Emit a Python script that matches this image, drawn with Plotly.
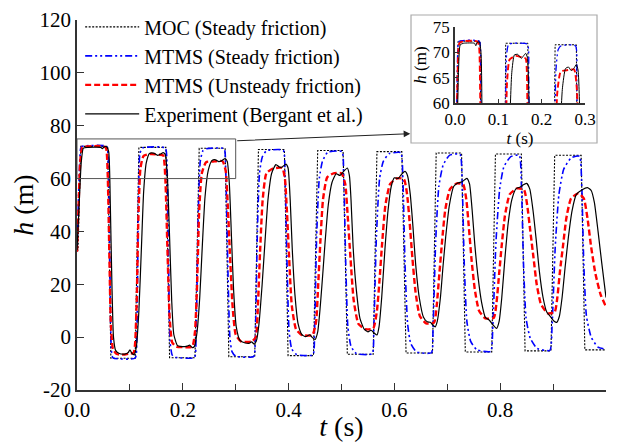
import plotly.graph_objects as go

# --- values ---
# MOC (steady friction), black dotted
moc_t = [0.000, 0.002, 0.007, 0.058, 0.064, 0.110, 0.117, 0.168, 0.175, 0.223,
         0.231, 0.280, 0.287, 0.336, 0.343, 0.392, 0.399, 0.447, 0.455, 0.503,
         0.511, 0.560, 0.567, 0.614, 0.622, 0.672, 0.679, 0.727, 0.734, 0.784,
         0.791, 0.840, 0.847, 0.896, 0.903, 0.953, 0.960, 1.000]
moc_h = [32.5, 33.0, 72.2, 72.2, -8.0, -8.0, 71.8, 71.8, -7.8, -7.8,
         71.5, 71.5, -7.4, -7.4, 71.0, 71.0, -7.0, -7.0, 70.6, 70.6,
         -6.5, -6.5, 70.2, 70.2, -6.0, -6.0, 69.7, 69.7, -5.6, -5.6,
         69.3, 69.3, -5.2, -5.2, 68.8, 68.8, -4.8, -4.8]

# MTMS (steady friction), blue dash-dot
mtms_s_t = [0.000, 0.004, 0.007, 0.010, 0.056, 0.059, 0.062, 0.065, 0.068, 0.110,
            0.113, 0.116, 0.119, 0.124, 0.167, 0.170, 0.173, 0.176, 0.180, 0.186,
            0.222, 0.225, 0.229, 0.233, 0.238, 0.245, 0.278, 0.281, 0.285, 0.289,
            0.293, 0.300, 0.334, 0.337, 0.341, 0.345, 0.350, 0.358, 0.390, 0.393,
            0.397, 0.401, 0.406, 0.415, 0.446, 0.449, 0.453, 0.458, 0.464, 0.474,
            0.501, 0.504, 0.508, 0.512, 0.518, 0.528, 0.558, 0.561, 0.566, 0.572,
            0.579, 0.590, 0.612, 0.616, 0.620, 0.625, 0.631, 0.642, 0.670, 0.673,
            0.678, 0.684, 0.692, 0.704, 0.724, 0.728, 0.732, 0.737, 0.744, 0.756,
            0.782, 0.786, 0.792, 0.799, 0.807, 0.820, 0.836, 0.840, 0.844, 0.849,
            0.857, 0.870, 0.894, 0.898, 0.904, 0.911, 0.920, 0.934, 0.950, 0.954,
            0.958, 0.963, 0.972, 0.985, 1.000]
mtms_s_h = [32.5, 60.0, 71.5, 72.2, 72.2, 68.0, 30.0, -5.0, -7.8, -7.9,
            0.0, 50.0, 69.5, 71.6, 71.6, 66.0, 30.0, -2.0, -6.8, -7.6,
            -7.7, 0.0, 45.0, 66.5, 70.5, 71.3, 71.3, 64.0, 28.0, 0.0,
            -5.5, -7.2, -7.3, 0.0, 40.0, 62.0, 68.0, 70.5, 70.7, 63.0,
            28.0, 2.0, -4.5, -6.6, -6.7, 2.0, 38.0, 60.0, 66.5, 70.0,
            70.2, 62.0, 28.0, 4.0, -3.5, -6.2, -6.3, 3.0, 38.0, 60.0,
            66.5, 69.4, 69.8, 60.0, 28.0, 5.0, -2.5, -5.6, -5.9, 3.0,
            36.0, 57.0, 65.0, 68.8, 69.2, 59.0, 28.0, 6.0, -1.5, -4.8,
            -5.4, 4.0, 36.0, 56.0, 64.5, 68.3, 68.8, 58.0, 28.0, 7.0,
            -0.5, -4.3, -5.0, 4.0, 34.0, 54.0, 63.5, 67.8, 68.4, 58.0,
            28.0, 8.0, 0.0, -3.8, -4.6]

# MTMS (unsteady friction), red dashed
mtms_u_t = [0.000, 0.003, 0.006, 0.010, 0.020, 0.050, 0.055, 0.058, 0.061, 0.064,
            0.068, 0.075, 0.090, 0.100, 0.107, 0.110, 0.113, 0.116, 0.120, 0.126,
            0.140, 0.155, 0.163, 0.167, 0.171, 0.175, 0.180, 0.188, 0.205, 0.218,
            0.223, 0.227, 0.231, 0.236, 0.244, 0.260, 0.275, 0.281, 0.285, 0.289,
            0.294, 0.300, 0.310, 0.330, 0.338, 0.342, 0.346, 0.351, 0.358, 0.370,
            0.388, 0.393, 0.397, 0.401, 0.406, 0.414, 0.425, 0.445, 0.452, 0.456,
            0.460, 0.465, 0.473, 0.485, 0.500, 0.507, 0.512, 0.517, 0.523, 0.532,
            0.545, 0.560, 0.567, 0.572, 0.577, 0.583, 0.592, 0.605, 0.618, 0.624,
            0.629, 0.634, 0.640, 0.648, 0.660, 0.675, 0.680, 0.685, 0.690, 0.696,
            0.705, 0.718, 0.730, 0.736, 0.741, 0.746, 0.752, 0.760, 0.772, 0.788,
            0.793, 0.798, 0.803, 0.809, 0.818, 0.832, 0.845, 0.851, 0.857, 0.863,
            0.869, 0.877, 0.890, 0.903, 0.908, 0.913, 0.919, 0.925, 0.934, 0.948,
            0.958, 0.965, 0.972, 0.980, 0.990, 1.000]
mtms_u_h = [32.3, 50.0, 66.0, 71.8, 72.2, 72.2, 71.5, 62.0, 33.0, 5.0,
            -4.5, -6.4, -6.6, -6.2, -6.0, -2.0, 15.0, 45.0, 64.0, 68.6,
            69.3, 69.0, 68.8, 60.0, 33.0, 8.0, -2.0, -3.6, -3.8, -3.6,
            2.0, 20.0, 48.0, 62.0, 66.2, 66.5, 66.6, 63.0, 50.0, 32.0,
            12.0, 1.0, -1.6, -1.7, 0.0, 12.0, 32.0, 52.0, 62.0, 63.8,
            64.0, 60.0, 47.0, 30.0, 12.0, 3.0, 0.8, 0.8, 6.0, 20.0,
            36.0, 52.0, 60.5, 62.0, 62.0, 58.0, 45.0, 30.0, 14.0, 5.0,
            3.0, 3.3, 10.0, 22.0, 36.0, 50.0, 58.0, 60.1, 59.8, 54.0,
            43.0, 30.0, 17.0, 8.0, 5.2, 5.5, 12.0, 24.0, 36.0, 48.0,
            56.0, 58.2, 57.8, 52.0, 41.0, 29.0, 18.0, 10.0, 7.1, 7.3,
            13.0, 24.0, 35.0, 46.0, 54.0, 56.3, 55.8, 50.0, 40.0, 30.0,
            20.0, 12.5, 9.0, 9.5, 15.0, 25.0, 35.0, 45.0, 52.5, 54.4,
            52.5, 45.0, 34.0, 24.0, 16.0, 11.5]

# Experiment (Bergant et al.), black solid
exp_t = [0.000, 0.004, 0.008, 0.012, 0.020, 0.045, 0.048, 0.051, 0.056, 0.060,
         0.063, 0.066, 0.069, 0.073, 0.080, 0.090, 0.097, 0.100, 0.104, 0.108,
         0.112, 0.117, 0.122, 0.126, 0.131, 0.137, 0.145, 0.153, 0.158, 0.163,
         0.167, 0.171, 0.175, 0.179, 0.183, 0.190, 0.200, 0.208, 0.213, 0.218,
         0.222, 0.227, 0.232, 0.237, 0.242, 0.248, 0.255, 0.262, 0.268, 0.274,
         0.280, 0.284, 0.288, 0.292, 0.296, 0.301, 0.308, 0.318, 0.326, 0.330,
         0.335, 0.339, 0.344, 0.350, 0.355, 0.361, 0.368, 0.376, 0.383, 0.388,
         0.395, 0.399, 0.403, 0.407, 0.412, 0.418, 0.425, 0.432, 0.440, 0.445,
         0.450, 0.455, 0.460, 0.465, 0.469, 0.475, 0.482, 0.490, 0.497, 0.503,
         0.511, 0.515, 0.518, 0.522, 0.528, 0.535, 0.543, 0.550, 0.556, 0.562,
         0.567, 0.571, 0.576, 0.582, 0.588, 0.594, 0.600, 0.607, 0.613, 0.620,
         0.625, 0.630, 0.635, 0.640, 0.647, 0.655, 0.662, 0.668, 0.673, 0.677,
         0.681, 0.687, 0.692, 0.697, 0.704, 0.712, 0.720, 0.728, 0.737, 0.742,
         0.747, 0.752, 0.758, 0.765, 0.772, 0.780, 0.787, 0.793, 0.798, 0.803,
         0.809, 0.815, 0.822, 0.830, 0.838, 0.843, 0.850, 0.856, 0.862, 0.868,
         0.874, 0.881, 0.888, 0.896, 0.902, 0.907, 0.912, 0.917, 0.923, 0.929,
         0.936, 0.944, 0.955, 0.965, 0.972, 0.978, 0.985, 0.992, 1.000]
exp_h = [33.0, 50.0, 66.0, 71.5, 71.8, 71.8, 71.3, 72.0, 72.0, 70.0,
         50.0, 20.0, 0.0, -5.0, -6.2, -6.4, -5.8, -4.8, -6.2, -6.6,
         -4.0, 10.0, 35.0, 55.0, 66.0, 69.5, 69.6, 68.8, 69.3, 69.8,
         69.0, 60.0, 38.0, 14.0, 1.0, -3.2, -3.6, -3.4, -3.0, -4.0,
         -3.5, 2.0, 15.0, 35.0, 53.0, 63.0, 66.8, 67.1, 66.4, 66.8,
         67.6, 66.5, 58.0, 38.0, 18.0, 4.0, -1.2, -2.2, -2.3, -1.8,
         -2.6, -1.5, 5.0, 20.0, 35.0, 52.0, 62.0, 65.3, 64.3, 64.4,
         65.5, 64.0, 52.0, 33.0, 16.0, 5.0, 1.0, 0.2, 0.9, -0.2,
         -0.9, 2.0, 12.0, 25.0, 36.0, 50.0, 58.5, 61.8, 61.2, 62.5,
         64.0, 61.0, 52.0, 34.0, 18.0, 7.0, 3.0, 2.0, 2.6, 1.5,
         0.8, 4.0, 15.0, 33.0, 48.0, 57.0, 60.3, 60.0, 61.5, 62.7,
         61.0, 54.0, 42.0, 28.0, 15.0, 7.5, 5.8, 5.6, 4.5, 3.9,
         6.0, 15.0, 27.0, 38.0, 50.0, 57.0, 58.3, 58.8, 60.1, 58.0,
         48.0, 35.0, 23.0, 13.0, 7.5, 6.3, 4.5, 3.3, 6.0, 15.0,
         30.0, 43.0, 52.0, 56.2, 56.8, 57.6, 58.2, 56.0, 48.0, 37.0,
         25.0, 15.0, 9.5, 7.5, 6.0, 5.6, 8.0, 15.0, 27.0, 38.0,
         48.0, 54.0, 55.8, 56.6, 55.5, 51.0, 40.0, 28.0, 15.0]

x_ticks = [0.0, 0.2, 0.4, 0.6, 0.8, 1.0]
y_ticks = [-20, 0, 20, 40, 60, 80, 100, 120]
y_tick_labels = ["-20", "0", "20", "40", "60", "80", "100", "120"]
inset_x_ticks = [0.0, 0.1, 0.2, 0.3]
inset_y_ticks = [60, 65, 70, 75]
inset_x_range = [0.0, 0.3]
inset_y_range = [60, 75]

series = [
    ("MOC (Steady friction)", moc_t, moc_h, dict(color="black", width=1.1, dash="2px,1.5px"), "linear"),
    ("MTMS (Steady friction)", mtms_s_t, mtms_s_h, dict(color="#0000ff", width=1.6, dash="7px,3px,2px,3px,2px,3px"), "spline"),
    ("MTMS (Unsteady friction)", mtms_u_t, mtms_u_h, dict(color="#ff0000", width=2.4, dash="6px,3px"), "spline"),
    ("Experiment (Bergant et al.)", exp_t, exp_h, dict(color="black", width=1.2), "spline"),
]

FONT = "Times New Roman, Liberation Serif, Times, DejaVu Serif, serif"
AXIS_COLOR = "#333333"

fig = go.Figure()

# main traces
for name, t, h, line, shape in series:
    fig.add_trace(go.Scatter(x=t, y=h, mode="lines", name=name, line=line,
                             line_shape=shape, line_smoothing=0.5 if shape == "spline" else None))

# inset traces (same data, zoomed)
for name, t, h, line, shape in series:
    ln = dict(line)
    ln["width"] = max(1.0, line["width"] * 0.8)
    fig.add_trace(go.Scatter(x=t, y=h, mode="lines", name=name, line=ln, showlegend=False,
                             line_shape=shape, line_smoothing=0.5 if shape == "spline" else None,
                             xaxis="x2", yaxis="y2"))

axis_common = dict(showline=True, linecolor=AXIS_COLOR, linewidth=1.5, mirror=False,
                   showgrid=False, zeroline=False, ticks="inside", tickcolor=AXIS_COLOR,
                   tickwidth=1.3, automargin=False)

# the page body adds an 8px offset, so the figure is 8px smaller than the window
fig.update_layout(
    width=611, height=434,
    margin=dict(l=69, r=13, t=12, b=52, autoexpand=False),
    paper_bgcolor="white", plot_bgcolor="white",
    font=dict(family=FONT, color="black", size=21),
    xaxis=dict(range=[0, 1.0], tickvals=x_ticks, tickformat=".1f", ticklen=7,
               minor=dict(dtick=0.1, ticks="inside", ticklen=6, tickcolor=AXIS_COLOR),
               tickfont=dict(size=21),
               title=dict(text="<i>t</i> (s)", font=dict(size=28), standoff=0),
               **axis_common),
    yaxis=dict(range=[-20, 120], tickvals=y_ticks, ticktext=y_tick_labels, ticklen=7,
               tickfont=dict(size=21),
               title=dict(text="<i>h</i> (m)", font=dict(size=28), standoff=4),
               **axis_common),
    xaxis2=dict(domain=[0.7146, 0.9603], anchor="y2", range=inset_x_range,
                tickvals=inset_x_ticks, tickformat=".1f", ticklen=4,
                tickfont=dict(size=17),
                title=dict(text="<i>t</i> (s)", font=dict(size=17), standoff=0),
                **axis_common),
    yaxis2=dict(domain=[0.7757, 0.981], anchor="x2", range=inset_y_range,
                tickvals=inset_y_ticks, ticklen=4,
                tickfont=dict(size=17),
                title=dict(text="<i>h</i> (m)", font=dict(size=17), standoff=2),
                **axis_common),
    legend=dict(x=0.006, y=1.034, xanchor="left", yanchor="top",
                bgcolor="rgba(0,0,0,0)", font=dict(size=20, family=FONT),
                itemwidth=54, tracegroupgap=0),
    showlegend=True,
)

# frame of the inset
fig.add_shape(type="rect", xref="paper", yref="paper",
              x0=0.6314, x1=0.983, y0=0.6676, y1=1.0135,
              line=dict(color="#aaaaaa", width=1.2), fillcolor="white", layer="below")

# zoom window on the main axes
fig.add_shape(type="rect", xref="x", yref="y",
              x0=inset_x_range[0], x1=inset_x_range[1],
              y0=inset_y_range[0], y1=inset_y_range[1],
              line=dict(color="#555555", width=1), layer="above")

# arrow from the zoom window to the inset
fig.add_annotation(x=0.63, y=77, xref="x", yref="y",
                   ax=inset_x_range[1], ay=74.3, axref="x", ayref="y",
                   showarrow=True, arrowhead=2, arrowsize=1.2, arrowwidth=1.1,
                   arrowcolor="#222222", text="")

fig.write_html("out.html")
